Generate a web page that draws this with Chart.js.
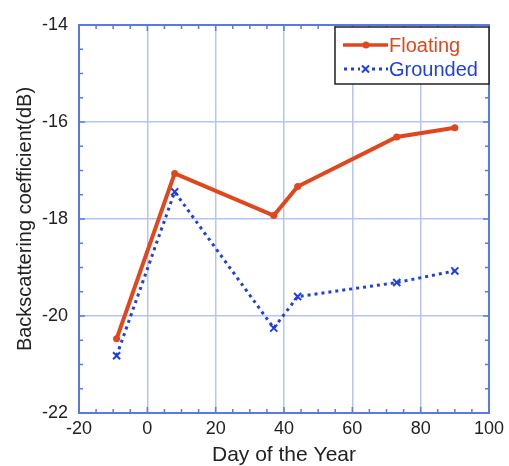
<!DOCTYPE html>
<html>
<head>
<meta charset="utf-8">
<script src="https://cdn.jsdelivr.net/npm/chart.js@4/dist/chart.umd.min.js"></script>
<style>
  html, body { margin: 0; padding: 0; background: #fff; }
  #wrap { width: 509px; height: 466px; }
</style>
</head>
<body>
<div id="wrap"><canvas id="myChart" width="509" height="466"></canvas></div>
<script>
'use strict';
// data
const floatingDays = [-9, 8, 37, 44, 73, 90];
const floatingDb = [-20.47, -17.06, -17.93, -17.33, -16.31, -16.12];
const groundedDays = [-9, 8, 37, 44, 73, 90];
const groundedDb = [-20.82, -17.44, -20.25, -19.6, -19.31, -19.07];
const xTicks = [-20, 0, 20, 40, 60, 80, 100];
const yTicks = [-22, -20, -18, -16, -14];

const RED = '#e2461c';
const BLUE = '#1f3fe3';
const FRAME = '#5b78e8';
const GRID = '#b6c3f5';
const FONT = '"Liberation Sans", Arial, sans-serif';

const toPts = (xs, ys) => xs.map((x, i) => ({ x: x, y: ys[i] }));

// inside tick marks, minor every 5 days / 0.5 dB, plus frame
const frameTicks = {
  id: 'frameTicks',
  afterDatasetsDraw(chart) {
    const c = chart.ctx, a = chart.chartArea;
    const xs = chart.scales.x, ys = chart.scales.y;
    c.save();
    c.strokeStyle = FRAME;
    c.lineWidth = 1.5;
    c.beginPath();
    for (let v = -20; v <= 100; v += 5) {
      const px = xs.getPixelForValue(v);
      const len = v % 20 === 0 ? 6 : 4;
      c.moveTo(px, a.bottom); c.lineTo(px, a.bottom - len);
      c.moveTo(px, a.top); c.lineTo(px, a.top + len);
    }
    for (let v = -22; v <= -14; v += 0.5) {
      const py = ys.getPixelForValue(v);
      const len = Math.abs(v % 2) < 0.01 ? 6 : 4;
      c.moveTo(a.left, py); c.lineTo(a.left + len, py);
      c.moveTo(a.right, py); c.lineTo(a.right - len, py);
    }
    c.stroke();
    c.lineWidth = 2;
    c.strokeRect(a.left, a.top, a.right - a.left, a.bottom - a.top);
    c.restore();
  }
};

// legend box in the top right corner
const boxLegend = {
  id: 'boxLegend',
  afterDraw(chart) {
    const c = chart.ctx, a = chart.chartArea;
    const x0 = 335, y0 = 27, w = a.right - 335, h = 57;
    c.save();
    c.fillStyle = '#fff';
    c.fillRect(x0, y0, w, h);
    c.strokeStyle = '#222';
    c.lineWidth = 1.5;
    c.strokeRect(x0, y0, w, h);
    // floating
    c.strokeStyle = RED; c.lineWidth = 3.5;
    c.beginPath(); c.moveTo(343, 45); c.lineTo(388, 45); c.stroke();
    c.fillStyle = RED;
    c.beginPath(); c.arc(366, 45, 3.5, 0, Math.PI * 2); c.fill();
    // grounded
    c.strokeStyle = BLUE; c.lineWidth = 3; c.setLineDash([3, 4]);
    c.beginPath(); c.moveTo(344, 69); c.lineTo(360, 69); c.moveTo(372, 69); c.lineTo(388, 69); c.stroke();
    c.setLineDash([]); c.lineWidth = 2;
    c.beginPath();
    c.moveTo(362, 65.5); c.lineTo(369, 72.5);
    c.moveTo(369, 65.5); c.lineTo(362, 72.5);
    c.stroke();
    c.font = '20px ' + FONT;
    c.textBaseline = 'middle';
    c.fillStyle = RED; c.fillText('Floating', 389, 46);
    c.fillStyle = BLUE; c.fillText('Grounded', 389, 70);
    c.restore();
  }
};

const ctx = document.getElementById('myChart');
new Chart(ctx, {
  type: 'line',
  data: {
    datasets: [{
      label: 'Floating',
      data: toPts(floatingDays, floatingDb),
      borderColor: RED,
      backgroundColor: RED,
      borderWidth: 4,
      pointRadius: 3.5,
      pointStyle: 'circle',
      pointBorderWidth: 0,
      tension: 0
    }, {
      label: 'Grounded',
      data: toPts(groundedDays, groundedDb),
      borderColor: BLUE,
      backgroundColor: BLUE,
      borderWidth: 3,
      borderDash: [3, 4],
      pointRadius: 5,
      pointStyle: 'crossRot',
      pointBorderWidth: 2,
      tension: 0
    }]
  },
  options: {
    responsive: false,
    animation: false,
    layout: { padding: { top: 25, right: 18, left: 13, bottom: 0 } },
    plugins: { legend: { display: false }, tooltip: { enabled: false } },
    scales: {
      x: {
        type: 'linear',
        min: -20, max: 100,
        afterBuildTicks: (s) => { s.ticks = xTicks.map(v => ({ value: v })); },
        afterFit: (s) => { s.height = 53; },
        grid: { color: GRID, lineWidth: 1.5, borderDash: [2, 1], drawTicks: false },
        border: { display: false },
        ticks: { color: '#222', font: { family: FONT, size: 18 }, padding: 5, maxRotation: 0 },
        title: { display: true, text: 'Day of the Year', color: '#222', font: { family: FONT, size: 21, lineHeight: 1 }, padding: { top: 3, bottom: 0 } }
      },
      y: {
        type: 'linear',
        min: -22, max: -14,
        afterBuildTicks: (s) => { s.ticks = yTicks.map(v => ({ value: v })); },
        afterFit: (s) => { s.width = 66; },
        grid: { color: GRID, lineWidth: 1.5, borderDash: [2, 1], drawTicks: false },
        border: { display: false },
        ticks: { color: '#222', font: { family: FONT, size: 18 }, padding: 11 },
        title: { display: true, text: 'Backscattering coefficient(dB)', color: '#222', font: { family: FONT, size: 20, lineHeight: 1.2 }, padding: { top: 0, bottom: 4 } }
      }
    }
  },
  plugins: [frameTicks, boxLegend]
});
</script>
</body>
</html>
